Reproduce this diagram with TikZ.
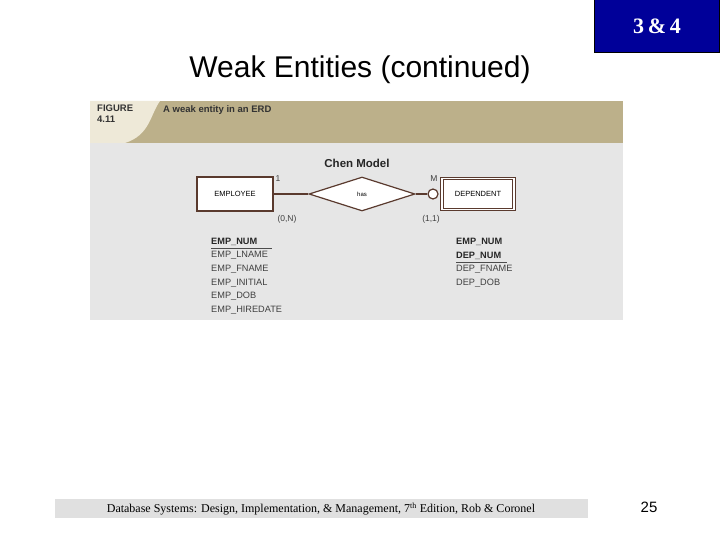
\documentclass[tikz,border=0pt]{standalone}
\usepackage{fontspec}
\setmainfont{Liberation Sans}
\newfontfamily\serifface{Liberation Serif}
\usetikzlibrary{shapes.geometric,positioning}
\definecolor{navy}{HTML}{000099}
\definecolor{tanband}{HTML}{BCB08A}
\definecolor{tanlight}{HTML}{EEE9D8}
\definecolor{panelgrey}{HTML}{E6E6E6}
\definecolor{erline}{HTML}{5A3A2E}
\tikzset{
  entity/.style={draw=erline, fill=white, line width=1.2pt, minimum width=76pt, minimum height=34pt, font=\fontsize{7.5}{8}\selectfont},
  rel/.style={diamond, aspect=3.2, draw=erline, fill=white, line width=1.2pt, minimum width=106pt, minimum height=34pt, inner sep=0pt, font=\fontsize{6}{7}\selectfont},
  attr/.style={anchor=west, inner sep=0pt, font=\fontsize{9.2}{10}\selectfont, text=black!75},
  keyattr/.style={attr, font=\bfseries\fontsize{9.2}{10}\selectfont, text=black!85},
  card/.style={inner sep=0pt, font=\fontsize{8.5}{9}\selectfont, text=black!75},
  link/.style={draw=erline, line width=1.2pt}
}
\begin{document}
\begin{tikzpicture}[x=1pt,y=-1pt]
  \useasboundingbox (0,0) rectangle (720,540);
  \fill[white] (0,0) rectangle (720,540);

  % Header
  \node[draw=black, fill=navy, minimum width=125pt, minimum height=53pt, text=white, font=\serifface\bfseries\fontsize{22}{24}\selectfont] (chap) at (657,26) {3\,\&\,4};
  \node[font=\fontsize{30}{34}\selectfont] (title) at (360,70) {Weak Entities (continued)};

  % Figure panel
  \fill[panelgrey] (90,101) rectangle (623,320);
  \fill[tanband] (90,101) rectangle (623,143);
  \fill[tanlight] (90,101) -- (160,101) .. controls (150,115) and (150,135) .. (125,143) -- (90,143) -- cycle;
  \node[anchor=north west, align=left, inner sep=0pt, font=\bfseries\fontsize{9.5}{11}\selectfont, text=black!80] (fig) at (97,105) {FIGURE\\4.11};
  \node[anchor=north west, inner sep=0pt, font=\bfseries\fontsize{9.5}{11}\selectfont, text=black!80] (cap) at (163,105) {A weak entity in an ERD};
  \node[font=\bfseries\fontsize{11.5}{13}\selectfont, text=black!85] (chen) at (357,163) {Chen Model};

  % Nodes
  \node[entity] (emp) at (235,194) {EMPLOYEE};
  \node[rel] (has) at (362,194) {has};
  \node[entity, double, double distance=1.5pt, minimum width=72pt, minimum height=31pt] (dep) at (478,194) {DEPENDENT};
  \node[circle, draw=erline, fill=white, line width=1.2pt, minimum size=10pt, inner sep=0pt] (opt) at (433,194) {};

  % Edges
  \draw[link] (emp) -- (has);
  \draw[link] (has) -- (opt);

  % Cardinalities
  \node[card] (c1) at (278,179) {1};
  \node[card] (c0n) at (287,219) {(0,N)};
  \node[card] (cm) at (434,179) {M};
  \node[card] (c11) at (431,219) {(1,1)};

  % Attributes
  \node[keyattr] (ek) at (211,242) {EMP\_NUM};
  \draw[black!70] (211,248.5) -- (272,248.5);
  \foreach \t [count=\i] in {EMP\_LNAME,EMP\_FNAME,EMP\_INITIAL,EMP\_DOB,EMP\_HIREDATE}
    \node[attr] (ea\i) at (211,{242+13.6*\i}) {\t};
  \node[keyattr] (dk1) at (456,242) {EMP\_NUM};
  \node[keyattr] (dk2) at (456,255.6) {DEP\_NUM};
  \draw[black!70] (456,262) -- (507,262);
  \foreach \t [count=\i] in {DEP\_FNAME,DEP\_DOB}
    \node[attr] (da\i) at (456,{255.6+13.6*\i}) {\t};

  % Footer
  \fill[black!12] (55,499) rectangle (588,518);
  \node[font=\serifface\fontsize{12}{14}\selectfont] (foot) at (321,509) {Database Systems: Design, Implementation, \& Management, 7\textsuperscript{th} Edition, Rob \& Coronel};
  \node[font=\fontsize{15}{17}\selectfont] (page) at (649,507) {25};
\end{tikzpicture}
\end{document}
